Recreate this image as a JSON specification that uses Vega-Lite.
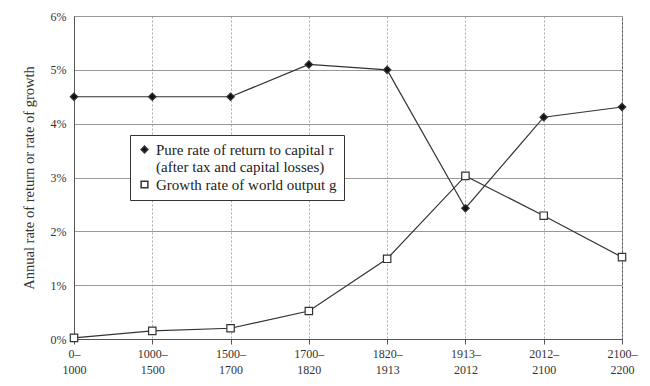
{
  "$schema": "https://vega.github.io/schema/vega-lite/v6.json",
  "width": 548,
  "height": 323,
  "autosize": {"type": "none"},
  "padding": {"left": 74, "top": 16, "right": 28, "bottom": 47},
  "background": "white",
  "config": {
    "font": "Liberation Serif",
    "view": {"stroke": "#555", "strokeWidth": 1}
  },
  "data": {
    "values": [
      {"period": "0–1000", "series": "r", "value": 4.5},
      {"period": "1000–1500", "series": "r", "value": 4.5},
      {"period": "1500–1700", "series": "r", "value": 4.5},
      {"period": "1700–1820", "series": "r", "value": 5.1},
      {"period": "1820–1913", "series": "r", "value": 5.0},
      {"period": "1913–2012", "series": "r", "value": 2.43},
      {"period": "2012–2100", "series": "r", "value": 4.12},
      {"period": "2100–2200", "series": "r", "value": 4.31},
      {"period": "0–1000", "series": "g", "value": 0.02},
      {"period": "1000–1500", "series": "g", "value": 0.15},
      {"period": "1500–1700", "series": "g", "value": 0.2},
      {"period": "1700–1820", "series": "g", "value": 0.52},
      {"period": "1820–1913", "series": "g", "value": 1.49},
      {"period": "1913–2012", "series": "g", "value": 3.03},
      {"period": "2012–2100", "series": "g", "value": 2.29},
      {"period": "2100–2200", "series": "g", "value": 1.52}
    ]
  },
  "encoding": {
    "x": {
      "field": "period",
      "type": "ordinal",
      "sort": null,
      "scale": {"type": "point", "padding": 0},
      "axis": {
        "title": null,
        "labelAngle": 0,
        "labelExpr": "[split(datum.value, '–')[0] + '–', split(datum.value, '–')[1]]",
        "labelFont": "Liberation Serif",
        "labelFontSize": 12,
        "labelColor": "#333",
        "labelPadding": 4,
        "labelLineHeight": 16,
        "tickColor": "#555",
        "tickSize": 5,
        "domainColor": "#555",
        "grid": true,
        "gridColor": "#aaa",
        "gridDash": [2, 2],
        "gridWidth": 1
      }
    },
    "y": {
      "field": "value",
      "type": "quantitative",
      "scale": {"domain": [0, 6], "nice": false},
      "axis": {
        "title": "Annual rate of return or rate of growth",
        "titleFont": "Liberation Serif",
        "titleFontSize": 14.5,
        "titleFontWeight": "normal",
        "titleColor": "#333",
        "titlePadding": 14,
        "values": [0, 1, 2, 3, 4, 5, 6],
        "labelExpr": "datum.value + '%'",
        "labelFont": "Liberation Serif",
        "labelFontSize": 12,
        "labelColor": "#333",
        "labelPadding": 8,
        "ticks": false,
        "domainColor": "#555",
        "grid": true,
        "gridColor": "#999",
        "gridWidth": 1
      }
    }
  },
  "layer": [
    {
      "mark": {"type": "line", "color": "#333", "strokeWidth": 1.2},
      "encoding": {"detail": {"field": "series"}}
    },
    {
      "mark": {"type": "point", "filled": false, "stroke": "#333", "strokeWidth": 1.2, "size": 55, "opacity": 1},
      "encoding": {
        "shape": {
          "field": "series",
          "type": "nominal",
          "scale": {"domain": ["r", "g"], "range": ["diamond", "square"]},
          "legend": {
            "title": null,
            "orient": "none",
            "legendX": 56,
            "legendY": 119,
            "strokeColor": "#333",
            "fillColor": "white",
            "padding": 7,
            "labelFont": "Liberation Serif",
            "labelFontSize": 15,
            "labelColor": "#222",
            "labelLineHeight": 17,
            "labelLimit": 400,
            "rowPadding": 2,
            "symbolSize": 45,
            "labelExpr": "datum.label == 'r' ? ['Pure rate of return to capital r', '(after tax and capital losses)'] : 'Growth rate of world output g'",
            "encode": {"symbols": {"update": {"stroke": {"value": "#222"}, "strokeWidth": {"value": 1.2}}}}
          }
        },
        "fill": {
          "field": "series",
          "type": "nominal",
          "scale": {"domain": ["r", "g"], "range": ["#111", "white"]},
          "legend": {
            "title": null,
            "orient": "none",
            "legendX": 56,
            "legendY": 119,
            "strokeColor": "#333",
            "fillColor": "white",
            "padding": 7,
            "labelFont": "Liberation Serif",
            "labelFontSize": 15,
            "labelColor": "#222",
            "labelLineHeight": 17,
            "labelLimit": 400,
            "rowPadding": 2,
            "symbolSize": 45,
            "labelExpr": "datum.label == 'r' ? ['Pure rate of return to capital r', '(after tax and capital losses)'] : 'Growth rate of world output g'",
            "encode": {"symbols": {"update": {"stroke": {"value": "#222"}, "strokeWidth": {"value": 1.2}}}}
          }
        }
      }
    }
  ]
}
